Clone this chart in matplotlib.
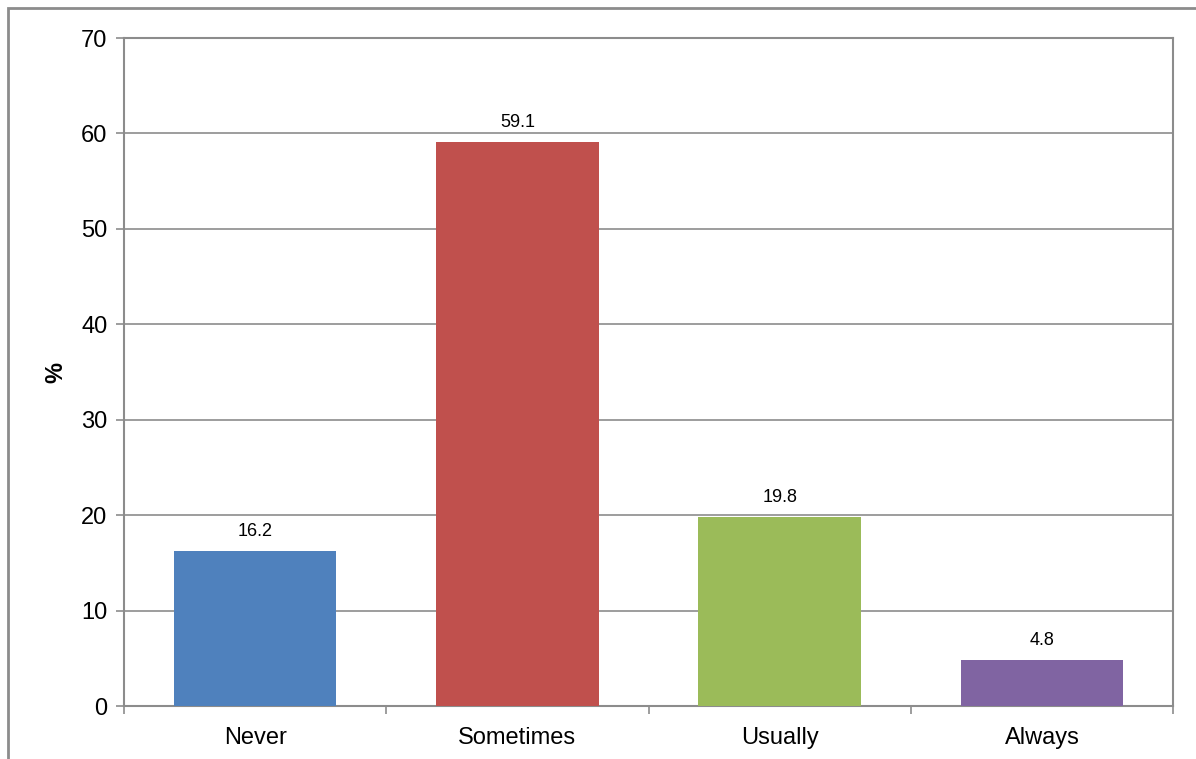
import matplotlib
matplotlib.use('Agg')
import matplotlib.pyplot as plt
from matplotlib.patches import Rectangle
import numpy as np

categories = ['Never', 'Sometimes', 'Usually', 'Always']
values = [16.2, 59.1, 19.8, 4.8]
colors = ['#4F81BD', '#C0504D', '#9BBB59', '#8064A2']
yticks = [0, 10, 20, 30, 40, 50, 60, 70]

plt.rcParams['font.family'] = ['Liberation Sans', 'DejaVu Sans']
gray = '#8c8c8c'

fig = plt.figure(figsize=(11.96, 7.59), dpi=100)
ax = fig.add_axes([0.1037, 0.0698, 0.8771, 0.8801])

# outer chart frame (cropped at right and bottom)
fig.patches.append(Rectangle((8 / 1196, -0.1), 1.2, 1 - 8.5 / 759 + 0.1,
                             transform=fig.transFigure, fill=False,
                             edgecolor=gray, linewidth=2))

ind = np.arange(len(categories))
ax.bar(ind, values, width=0.62, color=colors, zorder=3)
for i, v in zip(ind, values):
    ax.annotate(f'{v}', (i, v), xytext=(0, 8), textcoords='offset points',
                ha='center', va='bottom', fontsize=13)

ax.set_xlim(-0.5, 3.5)
ax.set_ylim(0, 70)
ax.set_yticks(yticks)
ax.set_xticks(ind)
ax.set_xticklabels(categories)
ax.set_xticks(np.arange(-0.5, 4, 1), minor=True)
ax.tick_params(axis='x', which='major', length=0, pad=15, labelsize=17)
ax.tick_params(axis='x', which='minor', length=6, color=gray, width=1.2)
ax.tick_params(axis='y', length=6, color=gray, width=1.2, labelsize=17, pad=6)
ax.yaxis.grid(True, color=gray, linewidth=1.2, zorder=0)
for s in ax.spines.values():
    s.set_color(gray)
    s.set_linewidth(1.5)
ax.set_ylabel('%', fontsize=17, fontweight='bold', labelpad=10)

fig.savefig('out.png', dpi=100)
